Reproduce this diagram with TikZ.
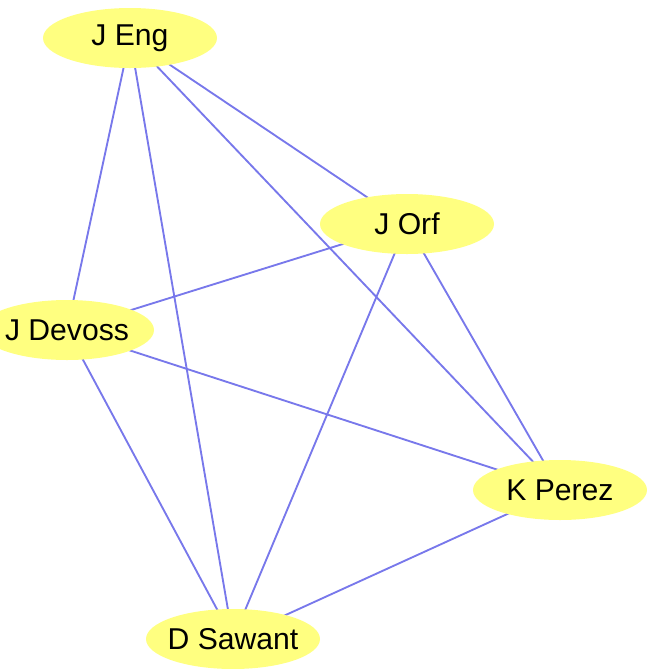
\documentclass[tikz,border=0pt]{standalone}
\usepackage{fontspec}
\setmainfont{Liberation Sans}
\usetikzlibrary{shapes.geometric,backgrounds}
\definecolor{nodefill}{RGB}{255,255,128}
\definecolor{edgecol}{RGB}{120,120,235}
\begin{document}
\begin{tikzpicture}[x=0.75pt,y=-0.75pt,
  person/.style={ellipse,fill=nodefill,draw=none,minimum width=130.5pt,minimum height=45pt,inner xsep=-12pt,inner ysep=0pt,font=\fontsize{22.6}{27}\selectfont},
  link/.style={draw=edgecol,line width=1.4pt}]
\useasboundingbox (0,0) rectangle (647,669);
\node[person] (eng) at (130,38) {J Eng};
\node[person] (orf) at (407,224) {J Orf};
\node[person] (dev) at (67,330) {J Devoss};
\node[person] (per) at (560,490) {K Perez};
\node[person] (saw) at (233,639) {D Sawant};
\begin{scope}[on background layer]
\draw[link] (eng.center) -- (orf.center);
\draw[link] (eng.center) -- (dev.center);
\draw[link] (eng.center) -- (saw.center);
\draw[link] (eng.center) -- (per.center);
\draw[link] (orf.center) -- (dev.center);
\draw[link] (orf.center) -- (saw.center);
\draw[link] (orf.center) -- (per.center);
\draw[link] (dev.center) -- (per.center);
\draw[link] (dev.center) -- (saw.center);
\draw[link] (per.center) -- (saw.center);
\end{scope}
\end{tikzpicture}
\end{document}
